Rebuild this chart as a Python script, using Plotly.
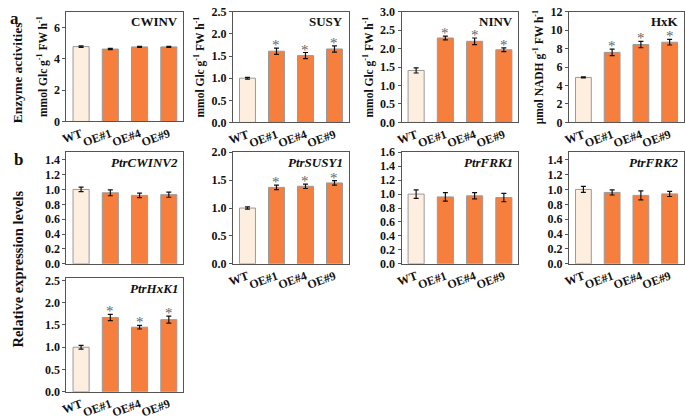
import plotly.graph_objects as go

categories = ["WT", "OE#1", "OE#4", "OE#9"]

cwinv = [4.78, 4.62, 4.76, 4.76]
cwinv_err = [0.05, 0.04, 0.03, 0.03]
susy = [1.00, 1.61, 1.51, 1.66]
susy_err = [0.02, 0.07, 0.07, 0.07]
ninv = [1.41, 2.29, 2.20, 1.97]
ninv_err = [0.07, 0.05, 0.09, 0.05]
hxk = [4.88, 7.60, 8.45, 8.70]
hxk_err = [0.06, 0.35, 0.35, 0.30]

ptr_cwinv2 = [1.00, 0.955, 0.92, 0.93]
ptr_cwinv2_err = [0.03, 0.04, 0.03, 0.035]
ptr_susy1 = [1.00, 1.37, 1.39, 1.45]
ptr_susy1_err = [0.02, 0.04, 0.04, 0.04]
ptr_frk1 = [1.00, 0.96, 0.975, 0.95]
ptr_frk1_err = [0.06, 0.06, 0.045, 0.06]
ptr_frk2 = [1.00, 0.96, 0.92, 0.94]
ptr_frk2_err = [0.04, 0.035, 0.06, 0.035]
ptr_hxk1 = [1.00, 1.67, 1.45, 1.62]
ptr_hxk1_err = [0.04, 0.07, 0.04, 0.08]

W, H = 685, 420
WT_COLOR = "#FDEEDF"
OE_COLOR = "#F77F3E"
LINE = "#9A9A9A"
FRAME = "#555555"
SERIF = "Liberation Serif"

panels = [
    # name, values, errs, sig, range, dtick, ytitle, box(px l, r, top, bottom), show x labels, italic
    ("CWINV", cwinv, cwinv_err, False, [0, 7], 2, "mmol Glc g<sup>-1</sup> FW h<sup>-1</sup>", (61, 179, 5, 119), True, False),
    ("SUSY", susy, susy_err, True, [0, 2.5], 0.5, "mmol Glc g<sup>-1</sup> FW h<sup>-1</sup>", (229, 346, 5, 120), True, False),
    ("NINV", ninv, ninv_err, True, [0, 3.0], 0.5, "mmol Glc g<sup>-1</sup> FW h<sup>-1</sup>", (399, 517, 5, 120), True, False),
    ("HxK", hxk, hxk_err, True, [0, 12], 2, "μmol NADH g<sup>-1</sup> FW h<sup>-1</sup>", (568, 684, 5, 120), True, False),
    ("PtrCWINV2", ptr_cwinv2, ptr_cwinv2_err, False, [0, 1.5], 0.2, None, (61, 179, 151, 267), False, True),
    ("PtrSUSY1", ptr_susy1, ptr_susy1_err, True, [0, 2.0], 0.5, None, (229, 346, 151, 267), True, True),
    ("PtrFRK1", ptr_frk1, ptr_frk1_err, False, [0, 1.6], 0.2, None, (399, 517, 151, 267), True, True),
    ("PtrFRK2", ptr_frk2, ptr_frk2_err, False, [0, 1.5], 0.2, None, (568, 684, 151, 267), True, True),
    ("PtrHxK1", ptr_hxk1, ptr_hxk1_err, True, [0, 2.55], 0.5, None, (61, 179, 282, 400), True, True),
]

fig = go.Figure()
layout = dict(
    width=W, height=H,
    margin=dict(l=0, r=0, t=0, b=0),
    paper_bgcolor="white", plot_bgcolor="white",
    showlegend=False,
    font=dict(family=SERIF, size=12, color="#222"),
    annotations=[],
)

for i, (name, vals, errs, sig, yr, dt, ytitle, box, showx, italic) in enumerate(panels):
    k = "" if i == 0 else str(i + 1)
    xa, ya = "x" + k, "y" + k
    l, r, t, b = box
    fig.add_trace(go.Bar(
        x=categories, y=vals, xaxis=xa, yaxis=ya,
        marker=dict(color=[WT_COLOR, OE_COLOR, OE_COLOR, OE_COLOR],
                    line=dict(color=LINE, width=1)),
        width=0.55,
        error_y=dict(type="data", array=errs, color="#111", thickness=1.2, width=2.5),
    ))
    if sig:
        for c, v, e in zip(categories[1:], vals[1:], errs[1:]):
            layout["annotations"].append(dict(
                text="*", x=c, y=v + e, xref=xa, yref=ya,
                xanchor="center", yanchor="bottom", yshift=-7, showarrow=False,
                font=dict(family=SERIF, size=15, color="#666"),
            ))
    layout["xaxis" + k] = dict(
        domain=[l / W, r / W], anchor=ya,
        showline=True, mirror=True, linecolor=FRAME, linewidth=1,
        ticks="", showgrid=False, zeroline=False,
        showticklabels=showx, tickangle=-20,
        tickfont=dict(family=SERIF, size=12, color="#111", weight="bold"),
        range=[-0.5, 3.5], fixedrange=True,
    )
    yd = dict(
        domain=[1 - b / H, 1 - t / H], anchor=xa,
        range=yr, dtick=dt, tick0=0,
        showline=True, mirror=True, linecolor=FRAME, linewidth=1,
        ticks="outside", ticklen=3, tickcolor=FRAME,
        showgrid=False, zeroline=False, fixedrange=True,
        tickformat=".1f" if dt < 1 else "d",
        tickfont=dict(family=SERIF, size=12, color="#111", weight="bold"),
    )
    if ytitle:
        yd["title"] = dict(text=ytitle, standoff=4,
                           font=dict(family=SERIF, size=11.5, color="#111", weight="bold"))
    layout["yaxis" + k] = yd
    label = f"<i>{name}</i>" if italic else name
    layout["annotations"].append(dict(
        text=label, xref=xa + " domain", yref=ya + " domain",
        x=0.97, y=0.995, xanchor="right", yanchor="top", showarrow=False,
        font=dict(family=SERIF, size=13, color="#111", weight="bold"),
    ))

layout["annotations"] += [
    dict(text="a", x=2 / W, y=1 - 0 / H, xref="paper", yref="paper", xanchor="left", yanchor="top",
         showarrow=False, font=dict(family=SERIF, size=17, color="#111", weight="bold")),
    dict(text="b", x=6 / W, y=1 - 147 / H, xref="paper", yref="paper", xanchor="left", yanchor="top",
         showarrow=False, font=dict(family=SERIF, size=17, color="#111", weight="bold")),
    dict(text="Enzyme activities", x=12 / W, y=1 - 68 / H, xref="paper", yref="paper",
         xanchor="center", yanchor="middle", textangle=-90, showarrow=False,
         font=dict(family=SERIF, size=13.5, color="#111", weight="bold")),
    dict(text="Relative expression levels", x=12 / W, y=1 - 272 / H, xref="paper", yref="paper",
         xanchor="center", yanchor="middle", textangle=-90, showarrow=False,
         font=dict(family=SERIF, size=14.5, color="#111", weight="bold")),
]

fig.update_layout(**layout)
fig.write_html("out.html", config={"displayModeBar": False, "staticPlot": True},
               post_script="document.body.style.margin='0';document.body.style.overflow='hidden';")
